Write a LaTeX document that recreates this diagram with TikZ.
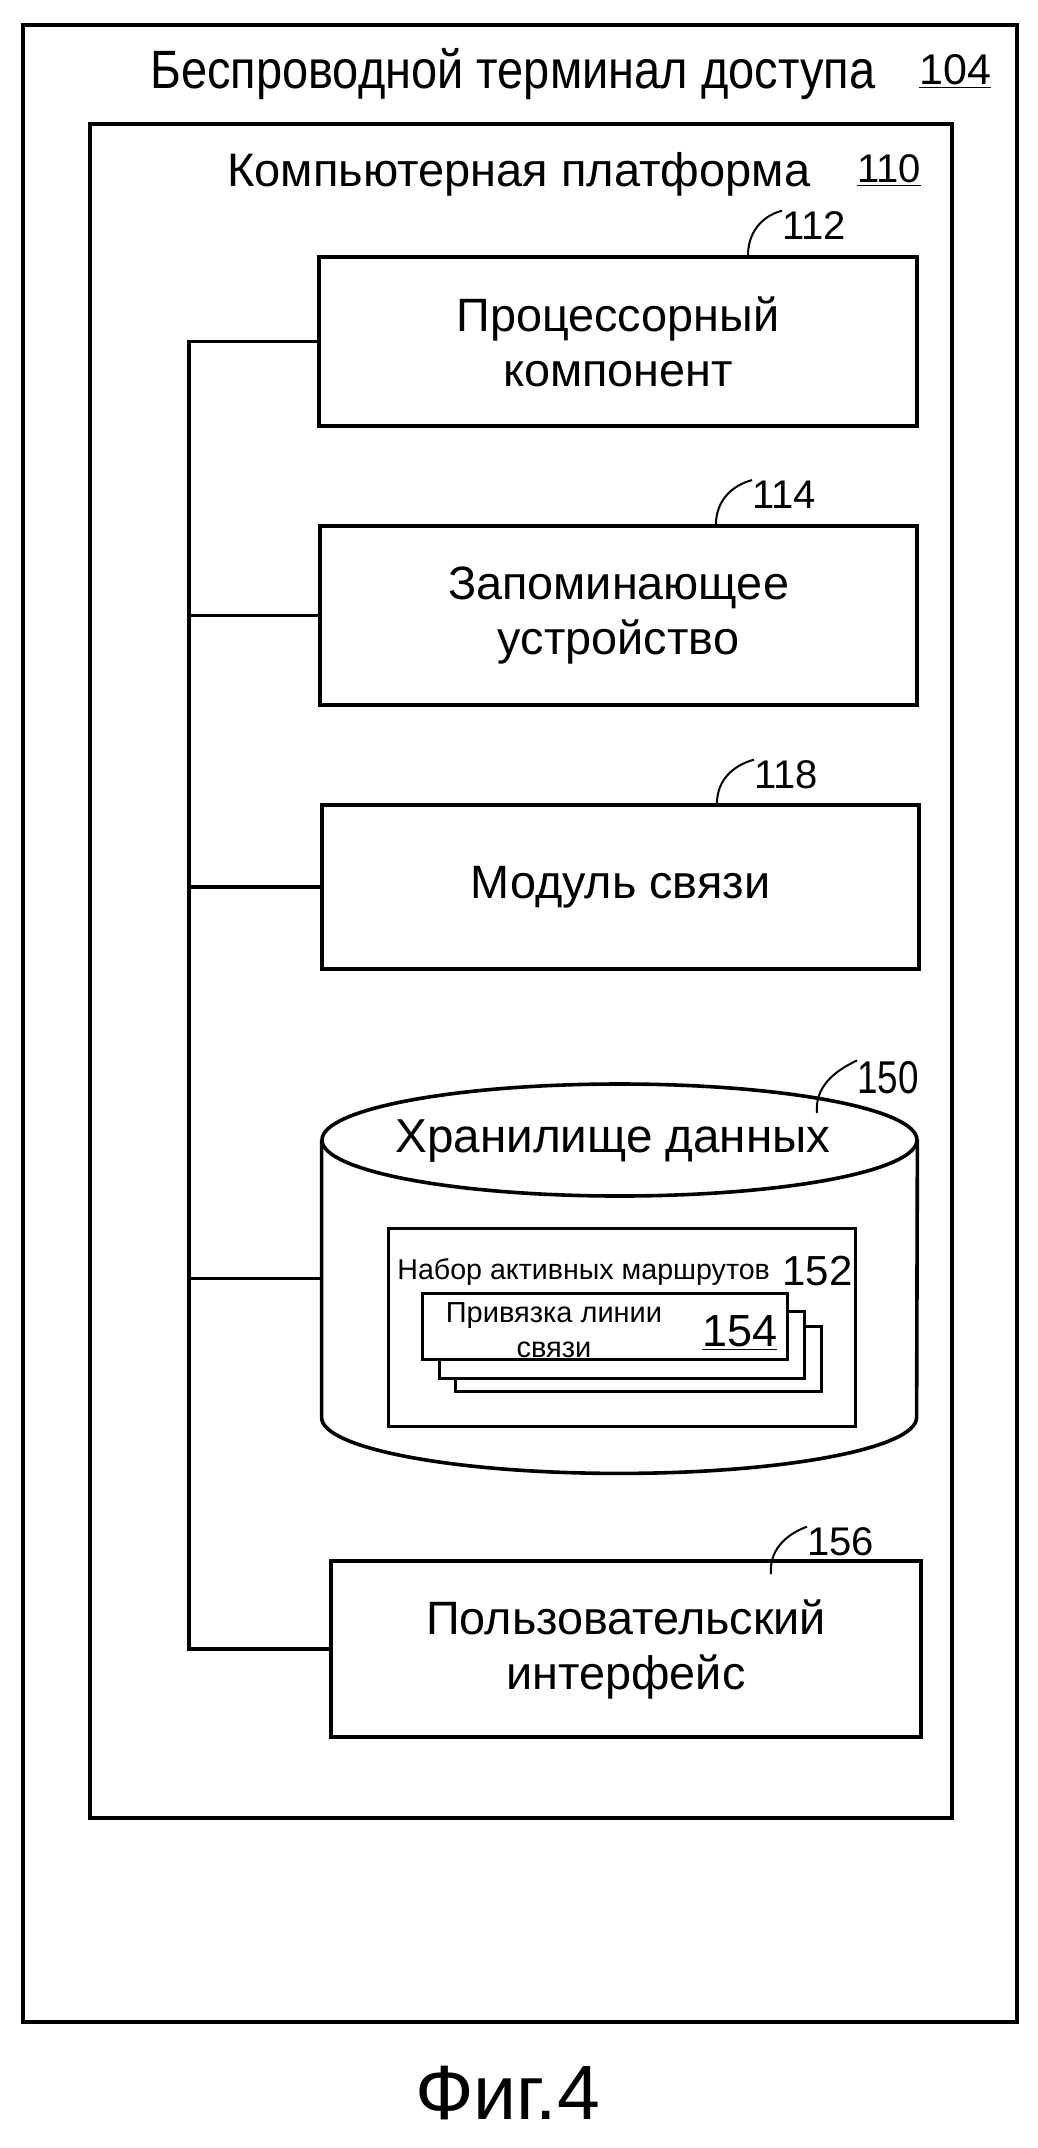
\documentclass[tikz,border=0pt]{standalone}
\usepackage{fontspec}
\setmainfont{Liberation Sans}
\usetikzlibrary{fit}
\begin{document}
\begin{tikzpicture}[x=0.5pt,y=-0.5pt,
  frame/.style={draw, line width=2pt, inner sep=0pt},
  blk/.style={draw, line width=1.8pt, inner sep=0pt, align=center, font=\fontsize{23.4}{27.5}\selectfont},
  card/.style={draw, fill=white, line width=1.5pt, inner sep=0pt},
  txt/.style={inner sep=0pt, anchor=base west},
  num/.style={inner sep=0pt, anchor=base west, font=\fontsize{20}{24}\selectfont},
  lead/.style={line width=1pt},
  wire/.style={line width=1.6pt}]
\useasboundingbox (0,0) rectangle (1038,2148);

% outer terminal
\node[frame, fit={(23,25) (1017,2022)}] (term) {};
\node[txt, font=\fontsize{27}{32}\selectfont] (termt) at (150,88) {\scalebox{0.87}[1]{Беспроводной терминал доступа}};
\node[num, font=\fontsize{21.5}{26}\selectfont] (t104) at (919,84) {\underline{104}};

% platform
\node[frame, fit={(90,124) (952,1818)}] (plat) {};
\node[txt, font=\fontsize{23.5}{28}\selectfont] (platt) at (227,186) {Компьютерная платформа};
\node[num] (t110) at (857,182) {\underline{110}};

% blocks
\node[blk, minimum width=299pt, minimum height=84.5pt] (proc) at (618,341.5) {Процессорный\\компонент};
\node[blk, minimum width=298.5pt, minimum height=89.5pt] (mem) at (618.5,615.5) {Запоминающее\\устройство};
\node[blk, minimum width=298.5pt, minimum height=82pt] (comm) at (620.5,887) {Модуль связи};
\node[blk, minimum width=295pt, minimum height=88pt] (ui) at (626,1649) {Пользовательский\\интерфейс};

% data store cylinder
\node[inner sep=0pt, fit={(322,1140) (917,1417)}] (store) {};
\draw[line width=1.8pt] (619.5,1140) ellipse [x radius=148.75pt, y radius=28pt];
\draw[line width=1.8pt] (store.north west) -- (store.south west)
  arc[start angle=180, end angle=360, x radius=148.75pt, y radius=28pt]
  -- (store.north east);
\node[inner sep=0pt, anchor=base, font=\fontsize{23.8}{28}\selectfont] (storet) at (613,1152) {Хранилище данных};

% active set
\node[draw, line width=1.5pt, inner sep=0pt, fit={(388,1228) (855,1426)}] (aset) {};
\node[txt, font=\fontsize{14.3}{17}\selectfont] (asett) at (397,1279) {Набор активных маршрутов};
\node[num, font=\fontsize{21}{25}\selectfont] (t152) at (782,1285) {152};

% link bindings (stack)
\node[card, fit={(455,1326) (821,1391)}] (c3) {};
\node[card, fit={(439,1311) (804,1378)}] (c2) {};
\node[card, fit={(422,1293) (787,1359)}] (c1) {};
\node[inner sep=0pt, align=center, font=\fontsize{14.5}{17.5}\selectfont] (c1t) at (554,1330) {Привязка линии\\связи};
\node[num, font=\fontsize{22.5}{27}\selectfont] (t154) at (702,1346) {\underline{154}};

% bus
\coordinate (bus) at (189,1000);
\draw[wire] (proc.west) -| (bus) |- (ui.west);
\draw[wire] (mem.west) -- (mem.west -| bus);
\draw[wire] (comm.west) -- (comm.west -| bus);
\draw[wire] (store.west) -- (store.west -| bus);

% reference labels with leaders
\node[num] (t112) at (782,239) {112};
\node[num] (t114) at (752,508) {114};
\node[num] (t118) at (754,788) {118};
\node[num, font=\fontsize{23}{27}\selectfont] (t150) at (857,1093) {\scalebox{0.8}[1]{150}};
\node[num] (t156) at (807,1555) {156};
\coordinate (s150) at (817,1113);
\coordinate (s156) at (771,1574);
\draw[lead] ([xshift=65pt]proc.north) to[out=90,in=195] (t112.north west);
\draw[lead] ([xshift=48.75pt]mem.north) to[out=90,in=195] (t114.north west);
\draw[lead] ([xshift=48.25pt]comm.north) to[out=90,in=195] (t118.north west);
\draw[lead] (s150) to[out=95,in=205] (t150.north west);
\draw[lead] (s156) to[out=95,in=200] (t156.north west);

% caption
\node[txt, font=\fontsize{38.5}{46}\selectfont] (fig) at (415,2119) {Фиг.4};
\end{tikzpicture}
\end{document}
